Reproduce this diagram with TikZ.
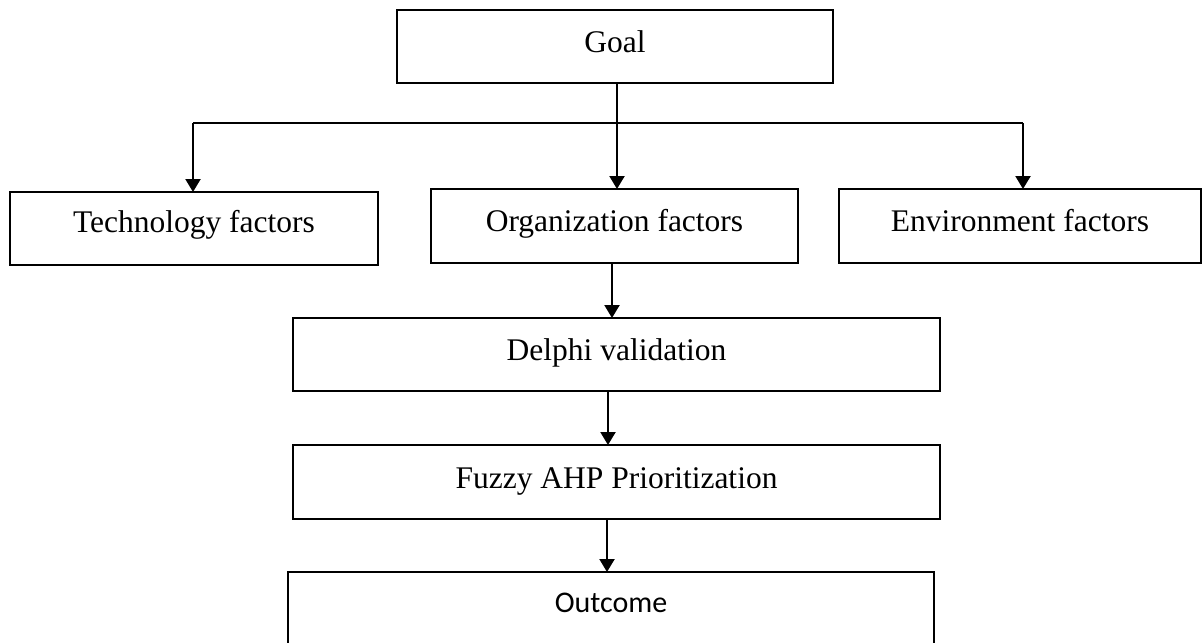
\documentclass[tikz,border=0pt]{standalone}
\usepackage{fontspec}
\setmainfont{Liberation Serif}
\newfontfamily\outfont{Carlito}
\usetikzlibrary{arrows.meta}
\begin{document}
\begin{tikzpicture}[x=1pt,y=1pt,
  box/.style={draw=black, line width=2.7pt, inner sep=0pt, outer sep=0pt,
    font=\fontsize{31.5}{36}\selectfont, text depth=20pt},
  arr/.style={line width=2.2pt, -{Triangle[width=15pt,length=13pt]}},
  ln/.style={line width=2.2pt}]
\useasboundingbox (0,0) rectangle (1203,-643);
\clip (0,0) rectangle (1203,-643);
\node[box, minimum width=436pt, minimum height=73pt, text height=31.8pt] (goal) at (615,-46.5) {Goal};
\node[box, minimum width=368pt, minimum height=73pt, text height=28.8pt] (tech) at (194,-228.5) {Technology factors};
\node[box, minimum width=367pt, minimum height=74pt, text height=30.8pt] (org) at (614.5,-226) {Organization factors};
\node[box, minimum width=362pt, minimum height=74pt, text height=30.8pt] (env) at (1020,-226) {Environment factors};
\node[box, minimum width=647pt, minimum height=73pt, text height=31.8pt] (delphi) at (616.5,-354.5) {Delphi validation};
\node[box, minimum width=647pt, minimum height=74pt, text height=32.8pt] (fuzzy) at (616.5,-482) {Fuzzy AHP Prioritization};
\node[box, minimum width=646pt, minimum height=88pt, text height=13.4pt, font=\outfont\fontsize{30}{36}\selectfont] (outcome) at (611,-616) {Outcome};
\coordinate (hub) at (617,-123);
\coordinate (lb) at (193,-123);
\coordinate (rb) at (1023,-123);
\draw[ln] (lb) -- (rb);
\draw[arr] (goal.south -| hub) -- (org.north -| hub);
\draw[arr] (lb) -- (tech.north -| lb);
\draw[arr] (rb) -- (env.north -| rb);
\draw[arr] ([xshift=-2.5pt]org.south) -- ([xshift=-2.5pt]org.south |- delphi.north);
\draw[arr] ([xshift=-8.5pt]delphi.south) -- ([xshift=-8.5pt]delphi.south |- fuzzy.north);
\draw[arr] ([xshift=-9.5pt]fuzzy.south) -- ([xshift=-9.5pt]fuzzy.south |- outcome.north);
\end{tikzpicture}
\end{document}
